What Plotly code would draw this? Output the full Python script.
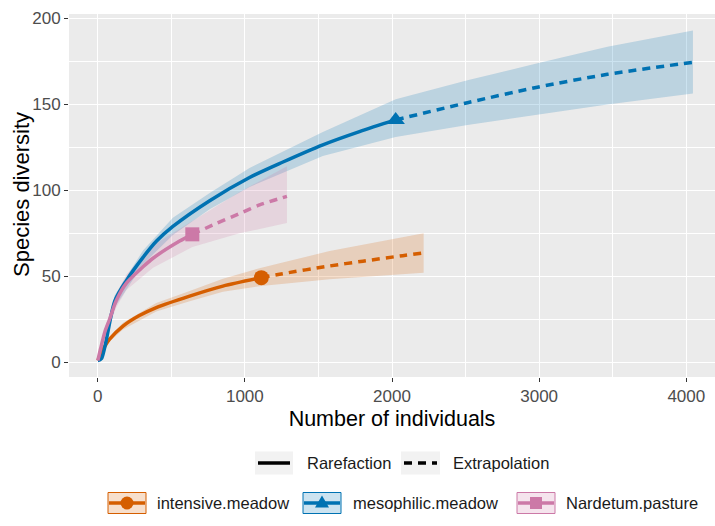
import plotly.graph_objects as go

# ---------------- data ----------------
sites = ["intensive.meadow", "mesophilic.meadow", "Nardetum.pasture"]
method_labels = ["Rarefaction", "Extrapolation"]

x_ticks = [0, 1000, 2000, 3000, 4000]
y_ticks = [0, 50, 100, 150, 200]

# intensive.meadow
int_rare_x = [1, 20, 50, 81, 172, 280, 398, 625, 851, 1112]
int_rare_y = [1, 4.5, 9.5, 13.4, 21, 27, 31.8, 38.5, 44.3, 49.2]
int_ext_x = [1112, 1236, 1576, 1802, 2073, 2215]
int_ext_y = [49.2, 51.2, 56, 58.8, 62, 63.6]
int_ci_x = [1, 81, 172, 398, 625, 851, 1112, 1576, 2215]
int_ci_lo = [1, 12, 19, 29.5, 35.5, 41, 44.4, 48.3, 52]
int_ci_hi = [1, 15, 23, 34.5, 41.5, 48.5, 55, 64.7, 75]

# mesophilic.meadow
mes_rare_x = [1, 25, 116, 195, 308, 400, 511, 761, 1032, 1259, 1530, 1779, 2025]
mes_rare_y = [1, 2, 35.6, 47.5, 61, 70.5, 79, 94, 107.5, 116.5, 126.5, 134.2, 141]
mes_ext_x = [2025, 2513, 2988, 3464, 4045]
mes_ext_y = [141, 151, 160, 167.5, 174.5]
mes_ci_x = [1, 25, 116, 308, 511, 761, 1032, 1530, 2025, 2513, 2988, 3464, 4045]
mes_ci_lo = [1, 1.5, 32, 57, 74, 89, 102, 120, 131, 138, 144, 150, 156.4]
mes_ci_hi = [1, 2.5, 39, 65, 84, 98.5, 113, 134, 153, 164, 174, 183.5, 193]

# Nardetum.pasture
nar_rare_x = [1, 20, 50, 81, 127, 195, 308, 376, 557, 643]
nar_rare_y = [1, 8, 18, 25, 36, 46, 55.5, 60.5, 70.5, 74.4]
nar_ext_x = [643, 800, 964, 1100, 1286]
nar_ext_y = [74.4, 80.5, 86.5, 91.5, 96.5]
nar_ci_x = [1, 50, 127, 195, 376, 643, 964, 1286]
nar_ci_lo = [1, 15, 32, 42, 55, 67, 75, 81]
nar_ci_hi = [1, 20, 40, 51, 68, 82, 99, 114]

# ---------------- styles ----------------
colors = ["#D55E00", "#0072B2", "#CC79A7"]
fills = ["rgba(213,94,0,0.2)", "rgba(0,114,178,0.2)", "rgba(204,121,167,0.2)"]
symbols = ["circle", "triangle-up", "square"]
msizes = [15, 16, 14]
FONT = "Liberation Sans, Arial, sans-serif"

series = [
    (int_rare_x, int_rare_y, int_ext_x, int_ext_y, int_ci_x, int_ci_lo, int_ci_hi),
    (mes_rare_x, mes_rare_y, mes_ext_x, mes_ext_y, mes_ci_x, mes_ci_lo, mes_ci_hi),
    (nar_rare_x, nar_rare_y, nar_ext_x, nar_ext_y, nar_ci_x, nar_ci_lo, nar_ci_hi),
]

fig = go.Figure()

# confidence bands
for i, s in enumerate(series):
    cx, lo, hi = s[4], s[5], s[6]
    fig.add_trace(go.Scatter(
        x=list(cx) + list(cx)[::-1], y=list(hi) + list(lo)[::-1],
        fill="toself", fillcolor=fills[i], mode="lines", line=dict(width=0),
        hoverinfo="skip", showlegend=False, name=sites[i] + " CI"))

# curves
for i, s in enumerate(series):
    rx, ry, ex, ey = s[0], s[1], s[2], s[3]
    fig.add_trace(go.Scatter(x=rx, y=ry, mode="lines", name=sites[i] + " " + method_labels[0],
                             line=dict(color=colors[i], width=3.5, shape="spline", smoothing=0.8),
                             showlegend=False))
    fig.add_trace(go.Scatter(x=ex, y=ey, mode="lines", name=sites[i] + " " + method_labels[1],
                             line=dict(color=colors[i], width=3.5, dash="8px,6px", shape="spline", smoothing=0.8),
                             showlegend=False))
    fig.add_trace(go.Scatter(x=[rx[-1]], y=[ry[-1]], mode="markers", name=sites[i] + " observed",
                             marker=dict(color=colors[i], symbol=symbols[i], size=msizes[i]),
                             showlegend=False))

# ---------------- layout ----------------
L, R, T, B, W, H = 69, 0, 14, 149, 715, 526
PW, PH = W - L - R, H - T - B

def pxx(p):
    return (p - L) / PW

def pyy(p):
    return (H - B - p) / PH

fig.update_layout(
    width=W, height=H, margin=dict(l=L, r=R, t=T, b=B, pad=0, autoexpand=False),
    paper_bgcolor="white", plot_bgcolor="#EBEBEB",
    font=dict(family=FONT, color="black"), showlegend=False,
)
fig.update_xaxes(
    range=[-195, 4195], tickvals=x_ticks, ticktext=[str(v) for v in x_ticks], automargin=False,
    showgrid=True, gridcolor="white", gridwidth=1.2, zeroline=False, showline=False,
    minor=dict(dtick=500, tick0=0, showgrid=True, gridcolor="white", gridwidth=0.6),
    ticks="outside", ticklen=4, tickwidth=1, tickcolor="#333333",
    tickfont=dict(size=17, color="#4D4D4D", family=FONT),
    title=dict(text="Number of individuals", font=dict(size=21.5, color="black", family=FONT), standoff=5),
)
fig.update_yaxes(
    range=[-8.6, 202.6], tickvals=y_ticks, ticktext=[str(v) for v in y_ticks], automargin=False,
    showgrid=True, gridcolor="white", gridwidth=1.2, zeroline=False, showline=False,
    minor=dict(dtick=25, tick0=0, showgrid=True, gridcolor="white", gridwidth=0.6),
    ticks="outside", ticklen=4, tickwidth=1, tickcolor="#333333",
    tickfont=dict(size=17, color="#4D4D4D", family=FONT),
)

shapes = []
annots = []

# y-axis title
annots.append(dict(text="Species diversity", x=pxx(21), y=pyy(195), xref="paper", yref="paper",
                   xanchor="center", yanchor="middle", textangle=-90, showarrow=False,
                   font=dict(size=22, color="black", family=FONT)))

# legend row 1: line types
row1_y = 463
keys1 = [(255, 293, 305, "solid"), (401, 440, 451, "8px,6px")]
for (k0, k1, tx, dash), lab in zip(keys1, method_labels):
    shapes.append(dict(type="rect", xref="paper", yref="paper", x0=pxx(k0), x1=pxx(k1),
                       y0=pyy(row1_y - 11.5), y1=pyy(row1_y + 11.5), fillcolor="#F2F2F2",
                       line=dict(width=0), layer="above"))
    shapes.append(dict(type="line", xref="paper", yref="paper", x0=pxx(k0 + 3), x1=pxx(k1 - 3),
                       y0=pyy(row1_y), y1=pyy(row1_y), line=dict(color="black", width=3.5, dash=dash),
                       layer="above"))
    annots.append(dict(text=lab, x=pxx(tx), y=pyy(row1_y), xref="paper", yref="paper",
                       xanchor="left", yanchor="middle", showarrow=False,
                       font=dict(size=16.5, color="#1A1A1A", family=FONT)))

# legend row 2: sites
row2_y = 503
keys2 = [(108, 146, 155), (303, 341, 351), (517, 555, 564)]
for i, ((k0, k1, tx), lab) in enumerate(zip(keys2, sites)):
    shapes.append(dict(type="rect", xref="paper", yref="paper", x0=pxx(k0), x1=pxx(k1),
                       y0=pyy(row2_y - 10.5), y1=pyy(row2_y + 10.5), fillcolor=fills[i],
                       line=dict(color=colors[i], width=1), layer="above"))
    shapes.append(dict(type="line", xref="paper", yref="paper", x0=pxx(k0 + 1), x1=pxx(k1 - 1),
                       y0=pyy(row2_y), y1=pyy(row2_y), line=dict(color=colors[i], width=3.5),
                       layer="above"))
    cx = pxx((k0 + k1) / 2)
    cy = pyy(row2_y)
    common = dict(xref="paper", yref="paper", xsizemode="pixel", ysizemode="pixel",
                  xanchor=cx, yanchor=cy, fillcolor=colors[i], line=dict(width=0), layer="above")
    if symbols[i] == "circle":
        shapes.append(dict(type="circle", x0=-6.5, x1=6.5, y0=-6.5, y1=6.5, **common))
    elif symbols[i] == "triangle-up":
        shapes.append(dict(type="path", path="M-7,-4.5 L7,-4.5 L0,7.5 Z", **common))
    else:
        shapes.append(dict(type="rect", x0=-6, x1=6, y0=-6, y1=6, **common))
    annots.append(dict(text=lab, x=pxx(tx), y=pyy(row2_y), xref="paper", yref="paper",
                       xanchor="left", yanchor="middle", showarrow=False,
                       font=dict(size=16.5, color="#1A1A1A", family=FONT)))

fig.update_layout(shapes=shapes, annotations=annots)

fig.write_html("out.html", config={"displayModeBar": False},
               post_script="document.body.style.margin='0';document.body.style.overflow='hidden';")
